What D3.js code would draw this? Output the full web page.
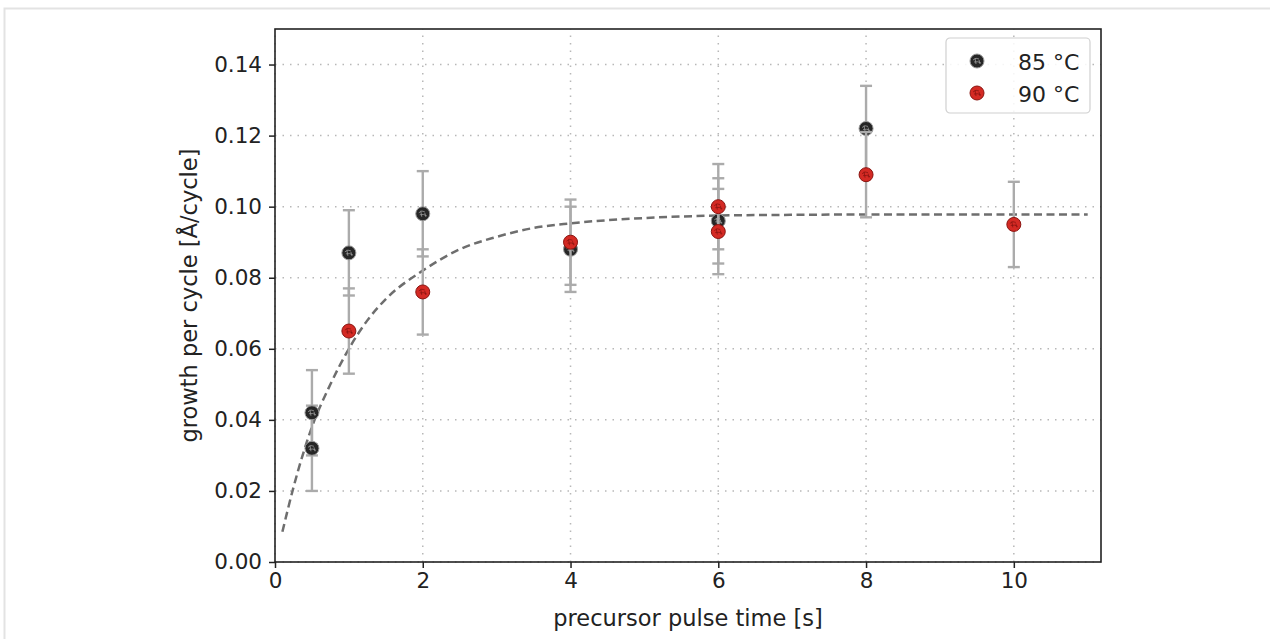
<!DOCTYPE html>
<html>
<head>
<meta charset="utf-8">
<script src="https://cdn.jsdelivr.net/npm/d3@7"></script>
<style>
  body { margin: 0; background: #fff; }
  svg { font-family: "DejaVu Sans", sans-serif; }
</style>
</head>
<body>
<div id="chart"></div>
<script>
// growth per cycle vs precursor pulse time

const x85 = [0.5, 0.5, 1, 2, 4, 6, 8];
const y85 = [0.042, 0.032, 0.087, 0.098, 0.088, 0.096, 0.122];
const err85 = [0.012, 0.012, 0.012, 0.012, 0.012, 0.012, 0.012];

const x90 = [1, 2, 4, 6, 6, 8, 10];
const y90 = [0.065, 0.076, 0.090, 0.100, 0.093, 0.109, 0.095];
const err90 = [0.012, 0.012, 0.012, 0.012, 0.012, 0.012, 0.012];

// dashed fit curve
const fitX = [0.1, 0.25, 0.5, 0.75, 1, 1.25, 1.5, 2, 2.5, 3, 3.5, 4, 5, 6, 7, 8, 9, 10, 11];
const fitY = [0.0085, 0.021, 0.038, 0.050, 0.060, 0.068, 0.074, 0.082, 0.088, 0.0915, 0.094, 0.0953, 0.0968, 0.0975, 0.0977, 0.0978, 0.0978, 0.0978, 0.0978];

const xTicks = [0, 2, 4, 6, 8, 10];
const yTicks = [0, 0.02, 0.04, 0.06, 0.08, 0.10, 0.12, 0.14];

const width = 1270, height = 639,
      margin = ({ top: 29, right: 169, bottom: 77, left: 275 });

const svg = d3.select("#chart")
    .append("svg")
    .attr("width", width)
    .attr("height", height);

// light frame around the figure
svg.append("path")
    .attr("d", `M4.5,${height} V8.5 H${width}`)
    .attr("fill", "none")
    .attr("stroke", "#e3e3e3")
    .attr("stroke-width", 2);

const x = d3.scaleLinear()
    .domain([0, 11.18])
    .range([margin.left, width - margin.right]);

const y = d3.scaleLinear()
    .domain([0, 0.15])
    .range([height - margin.bottom, margin.top]);

// grid
svg.append("g")
    .selectAll("line")
    .data(xTicks)
    .join("line")
    .attr("x1", d => x(d)).attr("x2", d => x(d))
    .attr("y1", y(0)).attr("y2", y(0.15))
    .attr("stroke", "#b8b8b8")
    .attr("stroke-width", 1.5)
    .attr("stroke-dasharray", "1.5,6");

svg.append("g")
    .selectAll("line")
    .data(yTicks)
    .join("line")
    .attr("x1", x(0)).attr("x2", x(11.18))
    .attr("y1", d => y(d)).attr("y2", d => y(d))
    .attr("stroke", "#b8b8b8")
    .attr("stroke-width", 1.5)
    .attr("stroke-dasharray", "1.5,6");

// axes
const xAxis = svg.append("g")
    .attr("transform", `translate(0,${height - margin.bottom})`)
    .call(d3.axisBottom(x).tickValues(xTicks).tickFormat(d3.format("d")).tickSize(6).tickPadding(5));

const yAxis = svg.append("g")
    .attr("transform", `translate(${margin.left},0)`)
    .call(d3.axisLeft(y).tickValues(yTicks).tickFormat(d3.format(".2f")).tickSize(6).tickPadding(7));

for (let ax of [xAxis, yAxis]) {
    ax.select(".domain").remove();
    ax.selectAll(".tick line").attr("stroke", "#222").attr("stroke-width", 1.5);
    ax.selectAll(".tick text")
        .attr("fill", "#222")
        .style("font-size", "21.5px")
        .style("font-family", "DejaVu Sans");
}

// fit line
svg.append("path")
    .datum(fitX.map((d, i) => [d, fitY[i]]))
    .attr("fill", "none")
    .attr("stroke", "#6e6e6e")
    .attr("stroke-width", 2.5)
    .attr("stroke-dasharray", "8,4.5")
    .attr("d", d3.line().x(d => x(d[0])).y(d => y(d[1])).curve(d3.curveMonotoneX));

// error bars + markers
function series(xs, ys, es, fill, edge) {
    const data = xs.map((d, i) => ({ x: d, y: ys[i], e: es[i] }));
    const g = svg.append("g");

    const eb = g.selectAll(".eb")
        .data(data)
        .join("g")
        .attr("stroke", "#ababab")
        .attr("stroke-width", 2.4);
    eb.append("line")
        .attr("x1", d => x(d.x)).attr("x2", d => x(d.x))
        .attr("y1", d => y(d.y - d.e)).attr("y2", d => y(d.y + d.e));
    eb.append("line")
        .attr("x1", d => x(d.x) - 6).attr("x2", d => x(d.x) + 6)
        .attr("y1", d => y(d.y + d.e)).attr("y2", d => y(d.y + d.e));
    eb.append("line")
        .attr("x1", d => x(d.x) - 6).attr("x2", d => x(d.x) + 6)
        .attr("y1", d => y(d.y - d.e)).attr("y2", d => y(d.y - d.e));

    const m = g.selectAll(".pt")
        .data(data)
        .join("g")
        .attr("transform", d => `translate(${x(d.x)},${y(d.y)})`);
    marker(m, fill, edge);
}

function marker(sel, fill, edge) {
    sel.append("circle")
        .attr("r", 7)
        .attr("fill", fill)
        .attr("stroke", edge)
        .attr("stroke-width", 1);
    sel.append("path") // little squiggle inside the marker
        .attr("d", "M-4,-1 Q-1,-4 2,-2 M-2,-3 L-1,3 M-3,1 Q1,0 4,2 M2,-1 L3,3")
        .attr("fill", "none")
        .attr("stroke", edge)
        .attr("stroke-width", 0.8);
}

series(x85, y85, err85, "#262626", "#9a9a9a");
series(x90, y90, err90, "#d42a24", "#8a1410");

// frame of the plot
svg.append("rect")
    .attr("x", x(0)).attr("y", y(0.15))
    .attr("width", x(11.18) - x(0))
    .attr("height", y(0) - y(0.15))
    .attr("fill", "none")
    .attr("stroke", "#222")
    .attr("stroke-width", 1.6);

// legend
const legend = svg.append("g").attr("transform", "translate(946,38)");
legend.append("rect")
    .attr("width", 144).attr("height", 75)
    .attr("rx", 4)
    .attr("fill", "#fff")
    .attr("fill-opacity", 0.85)
    .attr("stroke", "#d0d0d0")
    .attr("stroke-width", 1.2);

const legendItems = [
    { label: "85 °C", fill: "#262626", edge: "#9a9a9a" },
    { label: "90 °C", fill: "#d42a24", edge: "#8a1410" }
];
legendItems.forEach((d, i) => {
    const row = legend.append("g").attr("transform", `translate(31,${23 + i * 32})`);
    marker(row, d.fill, d.edge);
    row.append("text")
        .attr("x", 41).attr("y", 1)
        .attr("dominant-baseline", "central")
        .style("font-size", "22px")
        .attr("fill", "#222")
        .text(d.label);
});

// axis labels
svg.append("text")
    .attr("text-anchor", "middle")
    .attr("x", (x(0) + x(11.18)) / 2)
    .attr("y", 626)
    .style("font-size", "22.5px")
    .attr("fill", "#222")
    .text("precursor pulse time [s]");

svg.append("text")
    .attr("text-anchor", "middle")
    .attr("transform", `translate(197,${(y(0) + y(0.15)) / 2}) rotate(-90)`)
    .style("font-size", "22.5px")
    .attr("fill", "#222")
    .text("growth per cycle [Å/cycle]");
</script>
</body>
</html>
